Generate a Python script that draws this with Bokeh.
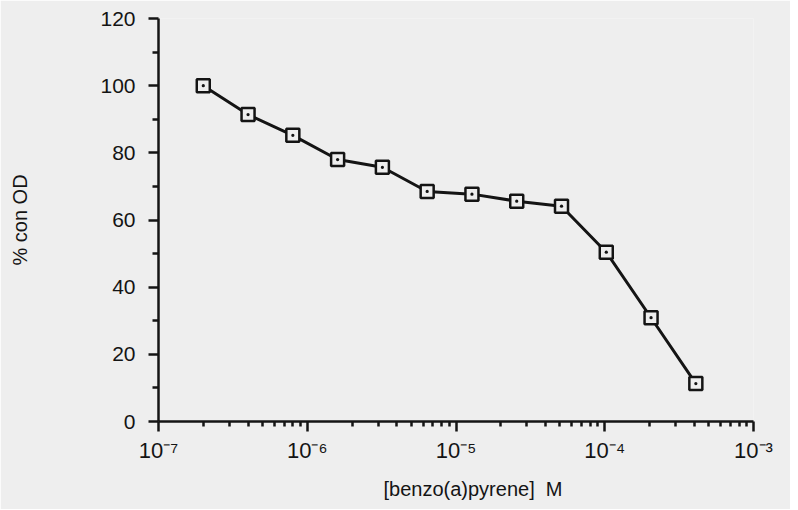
from bokeh.plotting import figure
from bokeh.models import FixedTicker, Range1d, CustomJSTickFormatter, Title
from bokeh.embed import file_html
from bokeh.resources import INLINE

# data
conc = [2e-7, 4e-7, 8e-7, 1.6e-6, 3.2e-6, 6.4e-6, 1.28e-5, 2.56e-5, 5.12e-5, 1.024e-4, 2.048e-4, 4.096e-4]
pct_con_od = [100, 91.4, 85.2, 78.0, 75.7, 68.5, 67.7, 65.6, 64.1, 50.4, 30.9, 11.3]

x_ticks = [1e-7, 1e-6, 1e-5, 1e-4, 1e-3]
x_tick_labels = ["10\u207b\u2077", "10\u207b\u2076", "10\u207b\u2075", "10\u207b\u2074", "10\u207b\u00b3"]
y_ticks = [0, 20, 40, 60, 80, 100, 120]
y_minor = [10, 30, 50, 70, 90, 110]

BG = "#eeeeee"
INK = "#141414"
FONT = "Liberation Sans"

p = figure(width=790, height=509, x_axis_type="log",
           x_range=Range1d(x_ticks[0], x_ticks[-1]), y_range=Range1d(y_ticks[0], y_ticks[-1]),
           output_backend="svg", toolbar_location=None,
           min_border_left=158, min_border_right=37, min_border_top=18, min_border_bottom=88)
p.background_fill_color = BG
p.border_fill_color = BG
p.outline_line_color = None
p.grid.visible = False

x_minor = [m * t for t in x_ticks[:-1] for m in range(2, 10)]
xa = p.xaxis[0]
xa.ticker = FixedTicker(ticks=x_ticks, minor_ticks=x_minor)
xa.formatter = CustomJSTickFormatter(args=dict(vals=x_ticks, labs=x_tick_labels), code="""
    let best = 0, bd = Infinity;
    for (let i = 0; i < vals.length; i++) {
        const d = Math.abs(Math.log10(tick) - Math.log10(vals[i]));
        if (d < bd) { bd = d; best = i; }
    }
    return labs[best];
""")
xa.axis_line_width = 2.5
xa.axis_line_color = INK
xa.major_tick_line_width = 2.5
xa.major_tick_line_color = INK
xa.minor_tick_line_width = 2.5
xa.minor_tick_line_color = INK
xa.major_tick_in = 0
xa.major_tick_out = 10
xa.minor_tick_in = 0
xa.minor_tick_out = 5
xa.major_label_text_font = FONT
xa.major_label_text_font_size = "22px"
xa.major_label_text_color = INK
xa.major_label_standoff = 6

ya = p.yaxis[0]
ya.ticker = FixedTicker(ticks=y_ticks, minor_ticks=y_minor)
ya.axis_line_width = 2.5
ya.axis_line_color = INK
ya.major_tick_line_width = 2.5
ya.major_tick_line_color = INK
ya.minor_tick_line_width = 2.5
ya.minor_tick_line_color = INK
ya.major_tick_in = 0
ya.major_tick_out = 10
ya.minor_tick_in = 0
ya.minor_tick_out = 6
ya.major_label_text_font = FONT
ya.major_label_text_font_size = "21px"
ya.major_label_text_color = INK
ya.major_label_standoff = 13
ya.axis_label = "% con OD"
ya.axis_label_text_font = FONT
ya.axis_label_text_font_size = "20px"
ya.axis_label_text_font_style = "normal"
ya.axis_label_text_color = INK
ya.axis_label_standoff = 66

xtitle = Title(text="[benzo(a)pyrene]\u00a0 M", align="left", offset=225, standoff=20,
               text_font=FONT, text_font_size="20px", text_font_style="normal",
               text_color=INK)
p.add_layout(xtitle, "below")

p.line(conc, pct_con_od, line_width=3, line_color=INK)
p.scatter(conc, pct_con_od, marker="square_dot", size=13, line_width=2.5,
          line_color=INK, fill_color=BG)

open("out.html", "w").write(file_html(p, INLINE))
